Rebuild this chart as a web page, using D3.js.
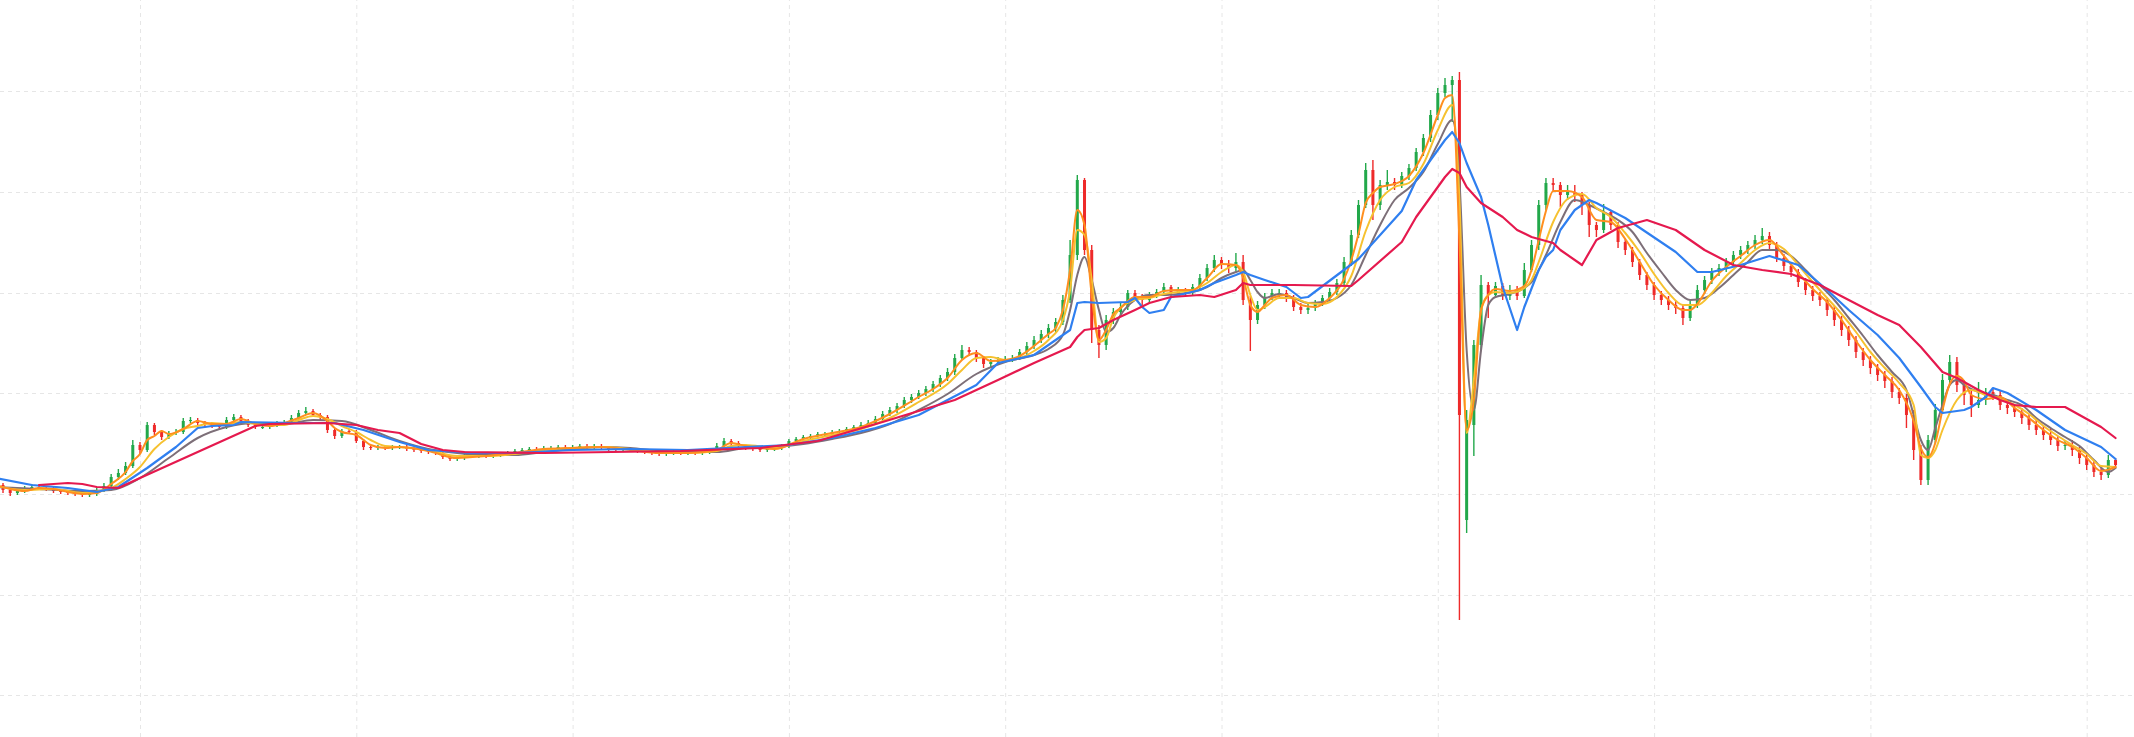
<!DOCTYPE html>
<html><head><meta charset="utf-8">
<script src="https://cdn.jsdelivr.net/npm/d3@7"></script>
<style>html,body{margin:0;padding:0;background:#fff;overflow:hidden}</style>
</head><body><svg id="chart" width="2134" height="737"></svg>
<script>
// ---- data (price units) ----
const open=[512,515,510,507,509,512,513,512,511,509,
508,507,506,505,506,510,514,523,527,534,
555,550,575,568,563,567,568,579,580,577,
576,574,573,580,583,579,575,573,573,575,
577,578,582,587,589,585,583,570,564,569,
568,559,553,552,553,552,553,553,551,550,
549,548,547,543,541,542,544,544,545,544,
545,546,547,549,550,551,550,552,552,553,
551,553,554,553,554,552,551,550,551,550,
549,548,547,546,547,548,547,548,547,548,
550,554,559,557,554,552,551,550,551,552,
554,559,561,563,564,566,566,568,569,571,
573,575,577,581,586,590,594,600,603,607,
611,616,622,628,642,650,648,642,636,638,
640,641,642,648,654,660,666,672,678,700,
745,820,750,670,655,680,688,693,707,703,
700,705,708,713,707,710,708,713,722,732,
740,735,732,738,700,680,695,703,707,707,
702,693,690,692,697,702,708,717,738,765,
795,830,795,815,818,815,824,832,848,862,
885,907,915,920,480,575,655,715,705,714,
704,708,704,730,755,795,817,815,805,808,
805,795,775,770,788,775,758,750,738,725,
715,705,700,695,692,682,695,710,720,728,
732,738,745,750,755,760,764,755,742,734,
728,718,710,704,700,690,680,670,660,648,
640,632,625,619,608,602,585,550,520,560,
590,620,638,615,605,595,600,608,605,595,
592,588,582,575,570,565,560,554,555,550,
542,535,528,525,540];
const high=[518,517,512,511,514,516,515,514,513,511,
510,509,508,508,512,517,526,531,538,560,
558,578,577,570,569,571,582,583,582,579,
578,576,583,586,585,581,577,575,577,579,
580,585,590,593,591,587,585,572,571,571,
570,561,555,555,555,555,555,555,553,552,
551,550,549,545,544,546,546,547,547,547,
548,549,551,552,553,553,554,554,555,555,
555,556,556,556,556,554,553,553,553,552,
551,550,549,549,550,550,550,550,550,552,
557,562,561,559,556,554,553,553,554,556,
561,563,565,566,568,568,570,571,573,575,
578,580,584,589,593,597,603,606,610,614,
619,625,632,646,655,653,650,644,641,643,
644,645,651,658,664,670,676,682,705,760,
825,822,755,675,685,692,697,710,710,706,
708,711,717,715,713,712,716,726,736,745,
743,740,747,745,704,699,707,711,711,710,
705,697,696,700,705,712,721,743,770,800,
837,840,820,830,822,828,836,852,866,890,
912,922,924,928,590,660,725,718,718,717,
715,714,737,760,800,822,822,818,815,815,
808,798,778,796,790,778,762,753,741,728,
718,709,704,699,696,699,715,724,732,736,
742,749,754,759,765,772,768,758,746,738,
731,722,714,708,703,694,684,674,664,652,
644,636,629,623,612,606,590,555,565,596,
626,645,643,620,610,618,612,612,609,598,
596,592,586,580,575,572,564,559,560,553,
546,539,532,545,542];
const low=[509,507,504,505,507,510,510,509,507,506,
505,504,503,503,504,508,512,520,525,532,
546,548,565,560,561,565,566,577,574,573,
572,571,571,578,576,573,571,571,571,573,
575,576,580,585,583,580,567,561,562,566,
557,550,550,550,550,550,551,549,548,547,
546,545,541,539,539,540,542,542,542,542,
543,544,545,547,548,548,548,550,550,549,
549,551,551,551,550,549,548,548,548,547,
546,545,544,544,545,545,545,545,545,546,
548,552,554,551,550,549,548,548,549,550,
552,557,559,561,562,564,564,566,567,569,
571,573,575,579,584,587,592,597,601,604,
608,613,619,625,640,644,638,632,633,635,
637,638,640,645,651,657,662,668,675,697,
740,745,657,642,650,676,684,690,699,695,
697,702,705,703,704,705,705,710,719,728,
731,727,729,695,649,676,691,700,703,698,
689,686,686,689,694,699,705,714,734,762,
792,780,790,810,810,812,820,829,844,858,
880,903,878,380,467,544,650,682,702,700,
700,700,702,728,750,790,808,793,800,798,
785,763,763,767,770,752,745,733,720,710,
700,695,690,686,675,679,692,706,716,724,
728,734,741,746,751,756,750,738,729,723,
713,705,699,694,684,674,664,654,642,634,
626,619,612,602,596,572,540,515,515,556,
586,615,608,595,583,592,595,600,590,586,
583,576,570,565,560,555,549,550,544,536,
530,523,520,522,532];
const close=[515,510,507,509,512,513,512,511,509,508,
507,506,505,506,510,514,523,527,534,555,
550,575,568,563,567,568,579,580,577,576,
574,573,580,583,579,575,573,573,575,577,
578,582,587,589,585,583,570,564,569,568,
559,553,552,553,552,553,553,551,550,549,
548,547,543,541,542,544,544,545,544,545,
546,547,549,550,551,550,552,552,553,551,
553,554,553,554,552,551,550,551,550,549,
548,547,546,547,548,547,548,547,548,550,
554,559,557,554,552,551,550,551,552,554,
559,561,563,564,566,566,568,569,571,573,
575,577,581,586,590,594,600,603,607,611,
616,622,628,642,650,648,642,636,638,640,
641,642,648,654,660,666,672,678,700,745,
820,750,670,655,680,688,693,707,703,700,
705,708,713,707,710,708,713,722,732,740,
735,732,738,700,680,695,703,707,707,702,
693,690,692,697,702,708,717,738,765,795,
830,795,815,818,815,824,832,848,862,885,
907,915,920,585,580,655,715,705,714,704,
708,704,730,755,795,817,815,805,808,805,
795,775,770,788,775,758,750,738,725,715,
705,700,695,692,682,695,710,720,728,732,
738,745,750,755,760,764,755,742,734,728,
718,710,704,700,690,680,670,660,648,640,
632,625,619,608,602,585,550,520,560,590,
620,638,615,605,595,600,608,605,595,592,
588,582,575,570,565,560,554,555,550,542,
535,528,525,540,535];

// moving-average lines: [candle index, value]
const maOrange=[[0,515],[2,511],[4,509],[6,512],[8,511],[10,508],[12,506],[14,507],[16,516],[18,528],[19,539],[20,546],[21,560],[22,564],[23,569],[24,566],[26,571],[28,579],[30,576],[32,576],[34,581],[36,576],[38,574],[40,577],[42,582],[44,587],[46,579],[47,572],[48,568],[50,565],[52,555],[54,552],[56,553],[60,549],[64,542],[68,544],[72,547],[76,551],[80,552],[84,553],[88,550],[92,547],[96,547],[100,550],[102,557],[104,554],[108,551],[112,561],[116,567],[120,573],[124,586],[128,603],[130,611],[132,622],[134,640],[136,647],[138,639],[140,640],[142,644],[144,654],[146,666],[147,672],[148,690],[149,730],[150,790],[151,775],[152,705],[153,660],[154,670],[155,686],[156,692],[157,699],[158,703],[160,703],[162,709],[164,710],[166,710],[168,722],[170,736],[172,735],[173,722],[174,695],[175,688],[176,695],[177,702],[179,705],[181,695],[183,693],[185,702],[187,721],[188,740],[189,766],[190,797],[191,807],[192,813],[194,816],[196,824],[198,847],[200,885],[201,902],[202,905],[203,760],[204,570],[205,600],[206,690],[207,705],[208,711],[210,709],[212,714],[213,730],[214,760],[215,789],[216,809],[218,809],[220,803],[222,780],[224,778],[226,761],[228,738],[230,715],[232,700],[234,690],[235,690],[236,696],[238,719],[240,733],[242,744],[244,755],[246,760],[248,744],[250,727],[252,711],[254,698],[256,680],[258,659],[260,640],[262,625],[264,610],[266,579],[267,552],[268,543],[269,557],[270,590],[271,616],[272,624],[273,619],[274,605],[276,601],[278,603],[280,592],[282,582],[284,570],[286,560],[288,553],[290,542],[292,529],[294,533]];
const maYellow=[[0,514],[4,510],[8,511],[12,507],[16,512],[18,521],[20,533],[22,551],[24,563],[26,571],[28,574],[30,577],[32,576],[34,578],[36,576],[38,575],[40,575],[42,580],[44,584],[46,581],[48,574],[50,568],[52,560],[54,554],[56,553],[60,550],[64,544],[68,544],[72,546],[76,550],[80,552],[84,553],[88,551],[92,548],[96,547],[100,549],[102,554],[104,555],[108,552],[112,559],[116,565],[120,571],[124,582],[128,598],[132,616],[134,630],[136,642],[138,643],[140,640],[142,642],[144,649],[146,660],[148,680],[149,710],[150,770],[151,765],[152,720],[153,658],[154,662],[155,682],[156,692],[158,700],[160,702],[162,706],[164,708],[166,710],[168,717],[170,728],[172,735],[173,728],[174,705],[175,690],[176,693],[178,702],[180,702],[182,697],[184,696],[186,703],[188,724],[190,769],[192,800],[194,813],[196,817],[198,836],[200,870],[202,895],[203,800],[204,567],[205,620],[206,690],[207,705],[208,708],[210,707],[212,712],[213,720],[214,738],[216,778],[218,801],[220,806],[222,792],[224,783],[226,767],[228,748],[230,726],[232,707],[234,695],[236,695],[238,707],[240,724],[242,737],[244,750],[246,757],[248,751],[250,735],[252,718],[254,702],[256,686],[258,668],[260,648],[262,632],[264,617],[266,595],[267,545],[268,542],[269,550],[270,570],[272,600],[274,610],[276,605],[278,601],[280,595],[282,586],[284,574],[286,564],[288,555],[290,546],[292,534],[294,533]];
const maGray=[[0,513],[6,511],[12,509],[16,510],[20,522],[24,542],[28,562],[32,573],[36,577],[40,576],[44,580],[48,579],[52,570],[56,559],[60,551],[64,547],[68,545],[72,545],[76,548],[80,551],[84,553],[88,552],[92,549],[96,548],[100,548],[104,552],[108,553],[112,556],[116,561],[120,567],[124,576],[128,590],[132,606],[136,626],[140,638],[144,645],[146,651],[148,665],[149,690],[150,725],[151,743],[152,720],[153,690],[154,668],[155,672],[156,685],[158,700],[160,705],[162,705],[164,706],[166,708],[168,713],[170,722],[172,728],[173,730],[174,720],[175,708],[176,702],[178,706],[180,702],[182,697],[184,698],[186,702],[188,715],[190,745],[192,775],[194,800],[196,812],[198,828],[200,856],[202,880],[203,820],[204,650],[205,590],[206,650],[207,695],[208,703],[210,706],[212,712],[213,718],[215,745],[217,778],[219,800],[221,795],[223,788],[225,780],[227,768],[229,747],[231,728],[233,710],[235,700],[237,702],[239,712],[241,725],[243,738],[245,750],[247,750],[249,744],[251,730],[253,715],[255,700],[257,682],[259,664],[261,645],[263,628],[265,610],[266,585],[267,560],[268,550],[269,572],[270,595],[271,615],[272,620],[273,615],[275,608],[277,605],[279,600],[281,595],[283,582],[285,572],[287,563],[289,554],[291,540],[293,528],[294,532]];
const maBlue=[[0,522],[5,515],[10,512],[14,508],[17,513],[21,532],[25,553],[28,572],[30,574],[33,575],[34,578],[42,577],[47,577],[51,570],[56,558],[60,550],[66,547],[72,547],[80,550],[88,551],[96,550],[104,553],[110,555],[116,562],[122,572],[128,585],[132,600],[136,615],[139,637],[144,645],[149,670],[150,697],[151,698],[153,697],[157,698],[158,702],[159,693],[160,687],[162,690],[163,703],[167,710],[169,717],[172,725],[173,728],[174,725],[176,720],[179,713],[181,702],[182,703],[189,741],[195,789],[197,820],[199,840],[201,860],[202,868],[203,857],[204,837],[206,803],[207,775],[209,713],[211,670],[212,693],[214,730],[215,743],[216,750],[217,770],[219,790],[221,800],[222,797],[226,782],[233,748],[236,728],[238,728],[242,735],[246,744],[250,735],[254,710],[257,690],[261,665],[264,642],[267,613],[269,593],[270,587],[273,590],[274,593],[276,603],[277,612],[279,607],[283,590],[287,570],[292,553],[294,541]];
const maRed=[[6,515],[8,516],[10,517],[12,516],[14,513],[17,512],[20,522],[24,535],[28,548],[32,561],[36,574],[38,576],[46,577],[50,575],[53,570],[56,567],[59,556],[62,550],[65,548],[76,547],[95,549],[106,552],[114,559],[123,578],[133,600],[139,620],[144,637],[149,653],[150,663],[151,670],[153,672],[155,680],[158,690],[160,697],[163,703],[167,705],[169,703],[172,710],[173,717],[174,715],[180,715],[188,714],[189,720],[195,758],[197,783],[199,803],[201,823],[202,831],[203,827],[204,813],[206,797],[209,783],[211,770],[213,763],[216,757],[217,750],[220,735],[222,760],[225,772],[229,780],[233,770],[237,750],[241,735],[245,730],[249,726],[253,715],[257,700],[261,685],[264,675],[267,653],[270,628],[272,622],[275,610],[278,600],[280,595],[283,593],[287,593],[289,585],[292,573],[294,562]];

const xGrid=[20,50,80,110,140,170,200,230,260,290];
const yGrid=[305,405,506,607,707,808,909];

// ---- drawing ----
const W=2134, H=737, step=7.21, x0=-4.2;
const svg=d3.select('#chart');
const x=d3.scaleLinear().domain([0,close.length-1]).range([x0, x0+(close.length-1)*step]);
const y=d3.scaleLinear().domain([263,1000]).range([H,0]);

const gridStyle=g=>{g.select('.domain').remove();
  g.selectAll('.tick line').attr('stroke','#e6e6e6').attr('stroke-width',1).attr('stroke-dasharray','4,4');
  g.selectAll('.tick text').remove();};
svg.append('g').call(d3.axisLeft(y).tickValues(yGrid).tickSize(-W).tickFormat('')).call(gridStyle);
svg.append('g').attr('transform',`translate(0,${H})`).call(d3.axisBottom(x).tickValues(xGrid).tickSize(-H).tickFormat('')).call(gridStyle);

const up='#22a84a', down='#ee2a2a';
const candles=d3.range(close.length).map(i=>({i,o:open[i],h:high[i],l:low[i],c:close[i]}));
const cg=svg.append('g');
cg.selectAll('line').data(candles).join('line')
  .attr('x1',d=>x(d.i)).attr('x2',d=>x(d.i))
  .attr('y1',d=>y(d.h)).attr('y2',d=>y(d.l))
  .attr('stroke',d=>d.c>=d.o?up:down).attr('stroke-width',1.4);
const bw=3;
cg.selectAll('rect').data(candles).join('rect')
  .attr('x',d=>x(d.i)-bw/2).attr('width',bw)
  .attr('y',d=>y(Math.max(d.o,d.c)))
  .attr('height',d=>Math.max(1,Math.abs(y(d.o)-y(d.c))))
  .attr('fill',d=>d.c>=d.o?up:down);

const lineFast=d3.line().x(d=>x(d[0])).y(d=>y(d[1])).curve(d3.curveMonotoneX);
const lineSlow=d3.line().x(d=>x(d[0])).y(d=>y(d[1]));
const series=[
  {d:maGray,c:'#7d6f78',w:2,f:lineFast},
  {d:maYellow,c:'#f6c12f',w:2,f:lineFast},
  {d:maOrange,c:'#ff8f1f',w:2,f:lineFast},
  {d:maBlue,c:'#2f7ff0',w:2.2,f:lineSlow},
  {d:maRed,c:'#e5194e',w:2.2,f:lineSlow}
];
series.forEach(s=>svg.append('path').datum(s.d).attr('d',s.f)
  .attr('fill','none').attr('stroke',s.c).attr('stroke-width',s.w)
  .attr('stroke-linejoin','round').attr('stroke-linecap','round'));
</script></body></html>
